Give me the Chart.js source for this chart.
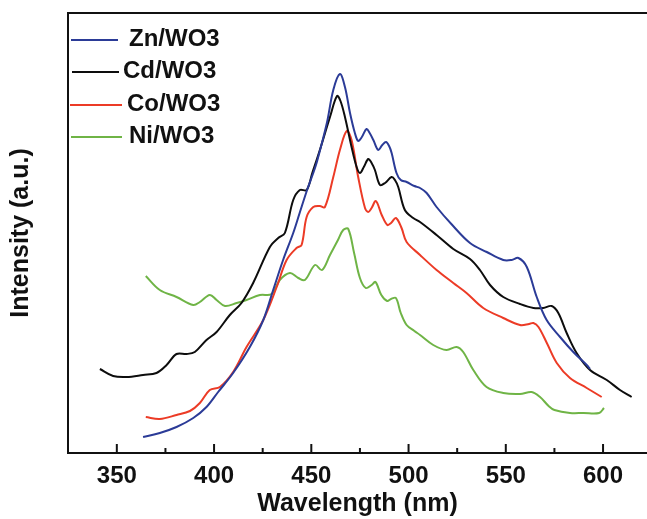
<!DOCTYPE html>
<html>
<head>
<meta charset="utf-8">
<script src="https://cdn.jsdelivr.net/npm/chart.js@4"></script>
<style>
    html, body { margin: 0; padding: 0; background: #fff; }
    #wrap { width: 647px; height: 519px; }
</style>
</head>
<body>
<div id="wrap"><canvas id="plChart"></canvas></div>
<script>
const seriesNames = ['Zn/WO3', 'Cd/WO3', 'Co/WO3', 'Ni/WO3'];
const xTicks = [350, 400, 450, 500, 550, 600];

const znWavelength = [363.5, 372.1, 380.7, 389.3, 396.1, 402.1, 409.8, 418.4, 425.3, 430.4, 435.5, 440.7, 444, 448, 451, 453, 458, 461.3, 464.7, 467.3, 469.9, 472.4, 474.1, 476, 478.4, 480, 481.9, 484.4, 486.5, 488.4, 490, 491.3, 493.8, 496, 499, 503, 505.9, 509.3, 514.4, 522, 531.6, 540.2, 548.7, 553, 556.5, 560.8, 565.9, 571, 577.9, 584.7, 591.6, 593.3];
const znIntensity = [16, 20, 26, 35, 46, 61, 80, 106, 133, 163, 193, 220, 240, 264, 280, 292, 330, 363, 379, 366, 340, 320, 312, 316, 324, 320, 313, 303, 308, 311, 307, 300, 280, 273, 271, 267, 265, 260, 246, 229, 210, 201, 193, 193, 195, 186, 156, 133, 116, 101, 88, 84];

const cdWavelength = [341.3, 348.1, 355, 363.5, 370.4, 375.6, 380.7, 385.9, 390.1, 396.1, 401.3, 408.1, 414.1, 420.1, 428.7, 433, 436.4, 440.7, 444.1, 447.6, 450.5, 454.4, 459.6, 463.2, 465, 467.3, 470.7, 473.3, 475, 477, 479.3, 481, 482.7, 485.3, 487.9, 491.3, 493, 494.7, 498.1, 502.4, 505.9, 514.4, 523, 531.6, 536.7, 541.9, 548.7, 557.3, 564.2, 569.3, 573.6, 577, 581.3, 586.4, 593.3, 601.9, 608.7, 614.7];
const cdIntensity = [84, 77, 76, 78, 80, 88, 99, 99, 101, 113, 121, 138, 150, 170, 206, 215, 220, 253, 263, 263, 280, 303, 336, 357, 352, 336, 306, 286, 280, 286, 294, 290, 283, 268, 270, 276, 273, 266, 243, 235, 231, 218, 204, 194, 183, 168, 156, 149, 145, 145, 147, 140, 120, 100, 83, 73, 63, 56];

const coWavelength = [364.9, 372.1, 380.7, 387.6, 392.7, 397.8, 403, 409.8, 416.7, 425.3, 432.2, 437.3, 442.4, 445, 447.6, 451, 454.4, 457, 461.3, 464.7, 468.2, 470.7, 474.1, 477.6, 479.3, 481, 483.2, 486.2, 489.1, 491, 493.5, 496.4, 499, 505.9, 514.4, 523, 529.8, 538.4, 548.7, 557.3, 562, 564.2, 566.8, 571.1, 576.2, 583, 591.6, 599.3];
const coIntensity = [36, 34, 38, 42, 50, 63, 66, 81, 106, 133, 166, 193, 205, 208, 236, 246, 247, 246, 276, 303, 322, 313, 276, 245, 241, 245, 252, 238, 228, 230, 235, 225, 211, 198, 183, 170, 160, 145, 135, 128, 129, 130, 126, 110, 90, 75, 65, 56];

const niWavelength = [364.9, 372.1, 380.7, 389.3, 392.7, 397.8, 401.3, 405.6, 411.6, 416.7, 423.6, 429.6, 433.8, 439, 443.3, 446.7, 451.9, 455.5, 459.6, 463.7, 466.4, 469, 472, 475, 478, 481, 483, 486, 489, 491, 493.5, 496, 499, 503, 505.9, 512.7, 519.5, 524.7, 528.1, 533.3, 540.1, 548.7, 557.3, 563.3, 567.6, 572, 575, 583, 590, 598, 600.5];
const niIntensity = [177, 163, 156, 148, 151, 158, 153, 147, 150, 153, 158, 159, 173, 180, 175, 173, 188, 183, 198, 213, 223, 224, 200, 175, 165, 168, 171, 158, 152, 154, 155, 140, 128, 122, 118, 108, 103, 106, 101, 83, 66, 60, 59, 61, 56, 47, 43, 40, 40, 40, 45];

const lineColors = ['#2b3b97', '#0d0d0d', '#ec3b26', '#6fb446'];

const toPoints = (xs, ys) => xs.map((x, i) => ({ x, y: ys[i] }));
const allSeries = [
    toPoints(znWavelength, znIntensity),
    toPoints(cdWavelength, cdIntensity),
    toPoints(coWavelength, coIntensity),
    toPoints(niWavelength, niIntensity),
];

const FONT = '"Liberation Sans", Arial, sans-serif';

// top frame line, inward tick marks and the legend in the upper left corner
const framePlugin = {
    id: 'frame',
    afterDraw(chart) {
        const { ctx, chartArea } = chart;
        const xScale = chart.scales.x;
        ctx.save();
        ctx.strokeStyle = '#111';
        ctx.lineWidth = 2;
        ctx.beginPath();
        ctx.moveTo(chartArea.left - 1, chartArea.top);
        ctx.lineTo(chartArea.right, chartArea.top);
        ctx.stroke();

        xScale.ticks.forEach(tick => {
            const px = xScale.getPixelForValue(tick.value);
            const len = tick.major ? 9 : 5;
            ctx.beginPath();
            ctx.moveTo(px, chartArea.bottom);
            ctx.lineTo(px, chartArea.bottom - len);
            ctx.stroke();
        });

        ctx.font = 'bold 24px ' + FONT;
        ctx.textBaseline = 'middle';
        ctx.textAlign = 'left';
        const rows = [
            { y: 40, x0: 71, x1: 118, tx: 129 },
            { y: 72, x0: 72, x1: 119, tx: 123 },
            { y: 105, x0: 70, x1: 122, tx: 127 },
            { y: 137, x0: 71, x1: 122, tx: 129 },
        ];
        chart.data.datasets.forEach((ds, i) => {
            const r = rows[i];
            ctx.strokeStyle = ds.borderColor;
            ctx.lineWidth = 2;
            ctx.beginPath();
            ctx.moveTo(r.x0, r.y);
            ctx.lineTo(r.x1, r.y);
            ctx.stroke();
            ctx.fillStyle = '#111';
            ctx.fillText(ds.label, r.tx, r.y - 1);
        });
        ctx.restore();
    }
};

new Chart(document.getElementById('plChart').getContext('2d'), {
    type: 'line',
    data: {
        datasets: seriesNames.map((name, i) => ({
            label: name,
            data: allSeries[i],
            borderColor: lineColors[i],
            borderWidth: 2,
            pointRadius: 0,
            tension: 0.35,
            fill: false,
        })),
    },
    options: {
        responsive: true,
        maintainAspectRatio: false,
        animation: false,
        layout: { padding: { top: 13, right: 0, bottom: 0, left: 0 } },
        plugins: {
            legend: { display: false },
            tooltip: { enabled: false },
        },
        scales: {
            x: {
                type: 'linear',
                min: 324.9,
                max: 622.6,
                afterBuildTicks: scale => {
                    const ticks = [];
                    for (let v = 350; v <= 600; v += 25) {
                        ticks.push({ value: v, major: xTicks.includes(v) });
                    }
                    scale.ticks = ticks;
                },
                afterFit: scale => {
                    scale.height = 66;
                },
                ticks: {
                    autoSkip: false,
                    maxRotation: 0,
                    padding: 11,
                    color: '#111',
                    font: { family: FONT, size: 24, weight: 'bold', lineHeight: 1 },
                    callback: value => (xTicks.includes(value) ? String(value) : ''),
                },
                grid: { display: false, drawTicks: false },
                border: { display: true, color: '#111', width: 2 },
                title: {
                    display: true,
                    text: 'Wavelength (nm)',
                    color: '#111',
                    font: { family: FONT, size: 25, weight: 'bold', lineHeight: 1.2 },
                    padding: { top: 1, bottom: 0 },
                },
            },
            y: {
                min: 0,
                max: 440,
                afterFit: scale => {
                    scale.width = 68;
                },
                ticks: { display: false },
                grid: { display: false, drawTicks: false },
                border: { display: true, color: '#111', width: 2 },
                title: {
                    display: true,
                    text: 'Intensity (a.u.)',
                    color: '#111',
                    font: { family: FONT, size: 25, weight: 'bold', lineHeight: 1.2 },
                    padding: { top: 6, bottom: 32 },
                },
            },
        },
    },
    plugins: [framePlugin],
});
</script>
</body>
</html>
